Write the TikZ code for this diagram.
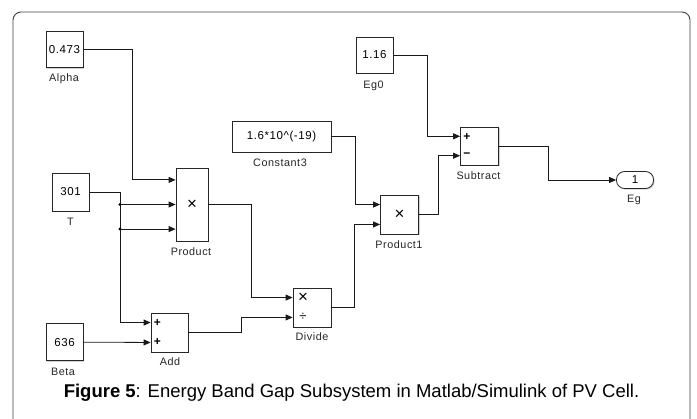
\documentclass[tikz,border=0pt]{standalone}
\usepackage{fontspec}
\setmainfont{Liberation Sans}
\newfontfamily\blkfont[LetterSpace=5]{Liberation Sans}
\usetikzlibrary{arrows.meta,calc,shadows}
\begin{document}
\begin{tikzpicture}[x=1pt,y=-1pt,
  blk/.style={draw=black!85, line width=0.8pt, fill=white, inner sep=0pt,
    font=\blkfont\fontsize{11.5}{11.5}\selectfont,
    drop shadow={shadow xshift=1.2pt, shadow yshift=-1.2pt, opacity=0.35}},
  lbl/.style={font=\blkfont\fontsize{10.8}{10.8}\selectfont, text=black!85, inner sep=0pt},
  sgn/.style={font=\fontsize{17}{17}\selectfont, inner sep=0pt},
  pm/.style={font=\fontsize{12}{12}\selectfont\bfseries, inner sep=0pt},
  wire/.style={draw=black!90, line width=0.8pt},
  sig/.style={wire, -{Triangle[length=7pt,width=6pt]}},
  frame/.style={draw=black!75, line width=0.9pt, rounded corners=8pt}]
\useasboundingbox[fill=white] (0,0) rectangle (697,419);
\draw[frame] (13,419) -- (13,12) -- (690,12) -- (690,419);

% blocks
\node[blk, minimum width=37pt, minimum height=36pt] (alpha) at (64.5,49.5) {0.473};
\node[blk, minimum width=37pt, minimum height=38pt] (T) at (70.5,192) {301};
\node[blk, minimum width=37pt, minimum height=37pt] (beta) at (64.5,342.2) {636};
\node[blk, minimum width=99pt, minimum height=31pt] (const3) at (281.5,136.5) {1.6*10\^{}(-19)};
\node[blk, minimum width=37pt, minimum height=36pt] (eg0) at (374.5,55) {1.16};
\node[blk, minimum width=32pt, minimum height=73pt] (prod) at (192,204.5) {};
\node[blk, minimum width=37pt, minimum height=39pt] (add) at (169.5,332.5) {};
\node[blk, minimum width=38pt, minimum height=39pt] (divide) at (312,307.5) {};
\node[blk, minimum width=38pt, minimum height=39pt] (prod1) at (399.5,214.5) {};
\node[blk, minimum width=38pt, minimum height=38pt] (sub) at (479.5,146) {};
\node[blk, minimum width=37pt, minimum height=17pt, rounded corners=8pt] (eg) at (635,180) {1};

% signs
\node[sgn] (sx1) at (prod.center) {×};
\node[sgn] (sx2) at (prod1.center) {×};
\node[sgn] (sd1) at (303,298) {×};
\node[sgn, font=\fontsize{13}{13}\selectfont] (sd2) at (303,316.5) {÷};
\node[pm] (sa1) at (157.5,323) {+};
\node[pm] (sa2) at (157.5,342) {+};
\node[pm] (ss1) at (467,136.5) {+};
\node[pm] (ss2) at (467,155) {−};

% labels
\node[lbl] (lalpha) at (64,79) {Alpha};
\node[lbl] (lT) at (70.5,222) {T};
\node[lbl] (lbeta) at (63,371.5) {Beta};
\node[lbl] (lconst) at (280,163) {Constant3};
\node[lbl] (leg0) at (373.5,86) {Eg0};
\node[lbl] (lprod) at (191,252) {Product};
\node[lbl] (ladd) at (170,362) {Add};
\node[lbl] (ldiv) at (312,337) {Divide};
\node[lbl] (lprod1) at (399,244.5) {Product1};
\node[lbl] (lsub) at (478.5,175.5) {Subtract};
\node[lbl] (leg) at (634,200) {Eg};

% ports
\coordinate (p1) at ($(prod.north west)!1/6!(prod.south west)$);
\coordinate (p2) at (prod.west);
\coordinate (p3) at ($(prod.north west)!5/6!(prod.south west)$);
\coordinate (a1) at ($(add.north west)!0.25!(add.south west)$);
\coordinate (a2) at ($(add.north west)!0.75!(add.south west)$);
\coordinate (d1) at ($(divide.north west)!0.25!(divide.south west)$);
\coordinate (d2) at ($(divide.north west)!0.75!(divide.south west)$);
\coordinate (q1) at ($(prod1.north west)!0.25!(prod1.south west)$);
\coordinate (q2) at ($(prod1.north west)!0.75!(prod1.south west)$);
\coordinate (s1) at ($(sub.north west)!0.25!(sub.south west)$);
\coordinate (s2) at ($(sub.north west)!0.75!(sub.south west)$);
\coordinate (j1) at (120,0 |- p2);
\coordinate (j2) at (120,0 |- p3);

% connectors
\draw[sig] (alpha.east) -| ($(p1)+(-43,0)$) -- (p1);
\draw[wire] (T.east) -| (j1);
\draw[sig] (j1) -- (p2);
\draw[wire] (j1) -- (j2);
\draw[sig] (j2) -- (p3);
\draw[sig] (j2) |- (a1);
\fill (j1) circle (1.6pt);
\fill (j2) circle (1.6pt);
\draw[sig] (beta.east) -- (a2);
\draw[sig] (prod.east) -| ($(d1)+(-41,0)$) -- (d1);
\draw[sig] (add.east) -| ($(d2)+(-51,0)$) -- (d2);
\draw[sig] (divide.east) -| ($(q2)+(-26,0)$) -- (q2);
\draw[sig] (const3.east) -| ($(q1)+(-25,0)$) -- (q1);
\draw[sig] (prod1.east) -| ($(s2)+(-22,0)$) -- (s2);
\draw[sig] (eg0.east) -| ($(s1)+(-33,0)$) -- (s1);
\draw[sig] (sub.east) -| ($(eg.west)+(-68,0)$) -- (eg.west);

% caption
\node[inner sep=0pt, font=\fontsize{18.5}{18.5}\selectfont] (cap) at (351.5,393)
  {\textbf{Figure 5}: Energy Band Gap Subsystem in Matlab/Simulink of PV Cell.};
\end{tikzpicture}
\end{document}
